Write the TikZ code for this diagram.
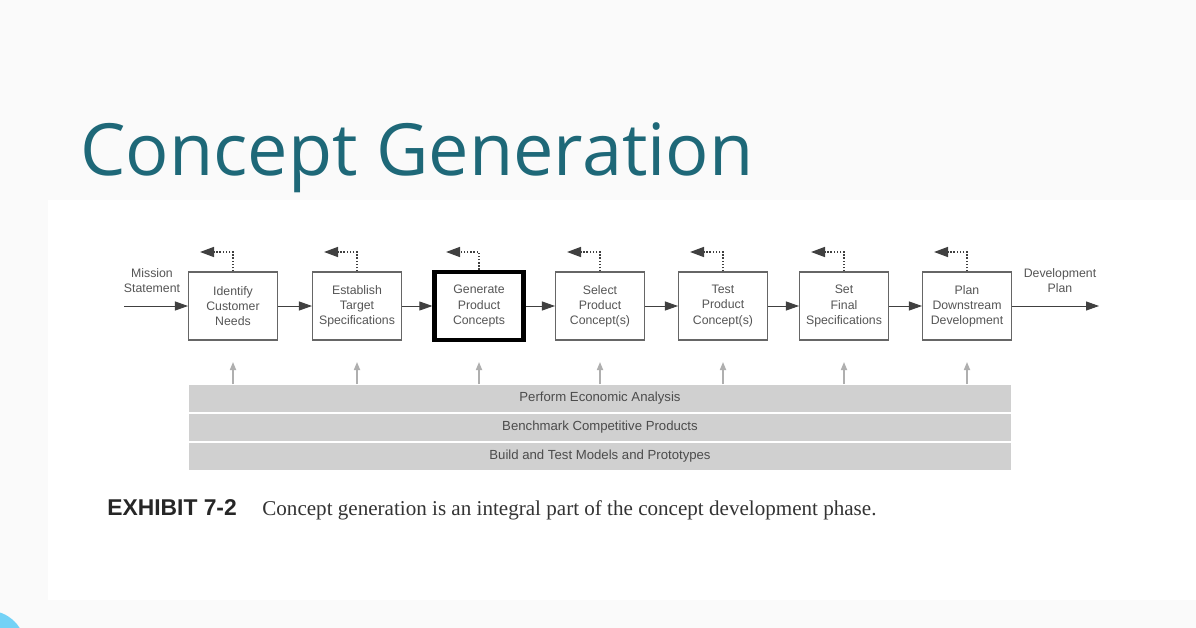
\documentclass[tikz,border=0pt]{standalone}
\usepackage{fontspec}
\setmainfont{Liberation Serif}
\setsansfont{Liberation Sans}
\newfontfamily\titlefont{Open Sans}
\usepackage{tikz}
\usetikzlibrary{positioning,arrows.meta}
\usepackage{xcolor}
\definecolor{slidebg}{RGB}{250,250,250}
\definecolor{titleteal}{RGB}{30,104,120}
\definecolor{boxtext}{RGB}{85,85,85}
\definecolor{barfill}{RGB}{208,208,208}
\definecolor{uparrow}{RGB}{175,175,175}

\begin{document}
\begin{tikzpicture}[
    x=0.02cm, y=-0.02cm,
    stage/.style={rectangle, draw=black!60, line width=0.6pt, fill=white, minimum width=1.78cm, minimum height=1.36cm, inner sep=1pt, align=center, text=boxtext, font=\sffamily\fontsize{7}{8.6}\selectfont},
    bar/.style={rectangle, fill=barfill, minimum width=16.46cm, minimum height=0.54cm, inner sep=0pt, text=black!70, font=\sffamily\fontsize{7.5}{9}\selectfont},
    arrow/.style={-{Triangle[length=0.26cm,width=0.18cm]}, line width=0.5pt, black!75},
    feedback/.style={densely dotted, -{Triangle[length=0.28cm,width=0.2cm]}, line width=0.8pt, black!75},
    lift/.style={-{Triangle[length=0.16cm,width=0.12cm]}, line width=0.9pt, uparrow},
    outside/.style={align=center, text=boxtext, font=\sffamily\fontsize{7}{8.6}\selectfont}
]
\useasboundingbox (0,0) rectangle (1196,628);
\fill[slidebg] (0,0) rectangle (1196,628);
\fill[white] (48,200) rectangle (1196,600);
\fill[cyan!55!white] (-12,648) circle[radius=0.75cm];

% title
\node[anchor=base west, inner sep=0pt, text=titleteal, font=\titlefont\fontsize{41}{46}\selectfont] (title) at (80,176) {Concept Generation};

% stages
\node[stage] (b1) at (233,306) {Identify\\Customer\\Needs};
\node[stage] (b2) at (357,306) {Establish\\Target\\Specifications};
\node[stage, draw=black, line width=2.4pt] (b3) at (479,306) {Generate\\Product\\Concepts};
\node[stage] (b4) at (600,306) {Select\\Product\\Concept(s)};
\node[stage] (b5) at (723,306) {Test\\Product\\Concept(s)};
\node[stage] (b6) at (844,306) {Set\\Final\\Specifications};
\node[stage] (b7) at (967,306) {Plan\\Downstream\\Development};

\node[outside] (mission) at (152,281) {Mission\\Statement};
\node[outside] (devplan) at (1060,281) {Development\\Plan};
\coordinate (in) at (124,306);
\coordinate (out) at (1099,306);

\draw[arrow] (in) -- (b1);
\draw[arrow] (b1) -- (b2);
\draw[arrow] (b2) -- (b3);
\draw[arrow] (b3) -- (b4);
\draw[arrow] (b4) -- (b5);
\draw[arrow] (b5) -- (b6);
\draw[arrow] (b6) -- (b7);
\draw[arrow] (b7) -- (out);

% feedback to earlier stages
\coordinate (f1) at (200,252);
\coordinate (f2) at (324,252);
\coordinate (f3) at (446,252);
\coordinate (f4) at (567,252);
\coordinate (f5) at (690,252);
\coordinate (f6) at (811,252);
\coordinate (f7) at (934,252);
\draw[feedback] (b1.north) |- (f1);
\draw[feedback] (b2.north) |- (f2);
\draw[feedback] (b3.north) |- (f3);
\draw[feedback] (b4.north) |- (f4);
\draw[feedback] (b5.north) |- (f5);
\draw[feedback] (b6.north) |- (f6);
\draw[feedback] (b7.north) |- (f7);

% supporting activities
\node[bar] (eco) at (600,398) {Perform Economic Analysis};
\node[bar] (bench) at (600,427) {Benchmark Competitive Products};
\node[bar] (build) at (600,456) {Build and Test Models and Prototypes};

\coordinate (u1) at (233,362);
\coordinate (u2) at (357,362);
\coordinate (u3) at (479,362);
\coordinate (u4) at (600,362);
\coordinate (u5) at (723,362);
\coordinate (u6) at (844,362);
\coordinate (u7) at (967,362);
\draw[lift] (eco.north -| u1) -- (u1);
\draw[lift] (eco.north -| u2) -- (u2);
\draw[lift] (eco.north -| u3) -- (u3);
\draw[lift] (eco.north -| u4) -- (u4);
\draw[lift] (eco.north -| u5) -- (u5);
\draw[lift] (eco.north -| u6) -- (u6);
\draw[lift] (eco.north -| u7) -- (u7);

% caption
\node[anchor=base west, inner sep=0pt, font=\sffamily\bfseries\fontsize{13}{15}\selectfont, text=black!85] (exhibit) at (107,515) {EXHIBIT 7-2};
\node[anchor=base west, inner sep=0pt, font=\fontsize{12}{14}\selectfont, text=black!80] (caption) at (262,515) {Concept generation is an integral part of the concept development phase.};
\end{tikzpicture}
\end{document}
